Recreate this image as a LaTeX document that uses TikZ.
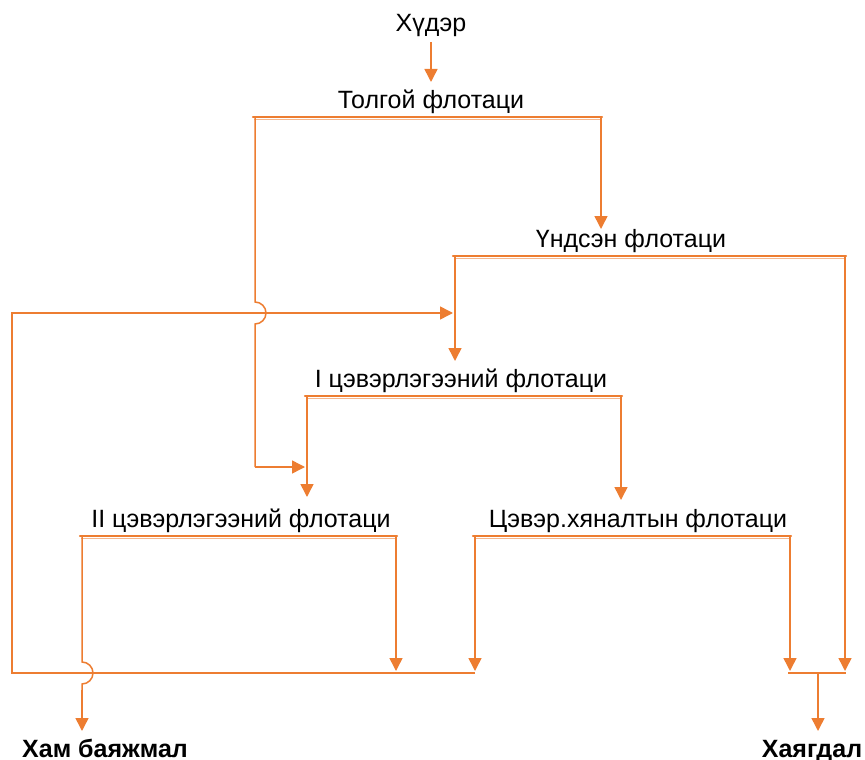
\documentclass[tikz,border=0pt]{standalone}
\usepackage{fontspec}
\setmainfont{Liberation Sans}
\usetikzlibrary{arrows.meta}
\definecolor{flow}{RGB}{237,125,49}
\begin{document}
\begin{tikzpicture}[x=1pt,y=-1pt,
  lbl/.style={font=\fontsize{25}{29}\selectfont, inner sep=0pt, anchor=base},
  outlbl/.style={font=\bfseries\fontsize{25}{29}\selectfont, inner sep=0pt, anchor=base},
  pipe/.style={draw=flow, line width=1.5pt},
  feed/.style={pipe, -{Triangle[length=13pt,width=13pt]}},
  bar/.style={draw=flow, line width=2.4pt, line cap=round},
  barshade/.style={draw=flow!55, line width=1pt}]
\useasboundingbox (0,0) rectangle (865,760);

% stage labels
\node[lbl] (ore)    at (431,32)  {Хүдэр};
\node[lbl] (rough)  at (431,108) {Толгой флотаци};
\node[lbl] (main)   at (631,247) {Үндсэн флотаци};
\node[lbl] (clean1) at (461,387) {I цэвэрлэгээний флотаци};
\node[lbl] (clean2) at (241,527) {II цэвэрлэгээний флотаци};
\node[lbl] (scav)   at (638,527) {Цэвэр.хяналтын флотаци};
\node[outlbl] (conc) at (105,757) {Хам баяжмал};
\node[outlbl] (tail) at (812,757) {Хаягдал};

% bar end points of each flotation stage
\coordinate (roughL)  at (255,117); \coordinate (roughR)  at (601,117);
\coordinate (mainL)   at (455,256); \coordinate (mainR)   at (845,256);
\coordinate (clean1L) at (307,396); \coordinate (clean1R) at (621,396);
\coordinate (clean2L) at (82,536);  \coordinate (clean2R) at (396,536);
\coordinate (scavL)   at (475,536); \coordinate (scavR)   at (790,536);

% stage bars
\foreach \a/\b in {roughL/roughR, mainL/mainR, clean1L/clean1R, clean2L/clean2R, scavL/scavR}{
  \draw[barshade] ([xshift=-1pt,yshift=-2.5pt]\a) -- ([xshift=1pt,yshift=-2.5pt]\b);
  \draw[bar] ([xshift=-2pt]\a) -- ([xshift=1pt]\b);
}

% feed into roughing
\draw[feed] (ore.south |- 0,42) -- (rough.north |- 0,82);

% roughing tails to main flotation
\draw[feed] (roughR) -- (roughR |- 0,229);

% roughing concentrate down to II cleaning (hops over the recycle line)
\coordinate (hopA) at (255,313);
\draw[pipe] (roughL) -- ([yshift=11pt]hopA)
  arc[start angle=90, end angle=-90, radius=11pt] -- (255,467);
\draw[feed] (255,467) -- (305,467);

% main flotation outputs
\draw[feed] (mainL) -- (mainL |- 0,361);
\draw[feed] (mainR) -- (mainR |- 0,671);

% I cleaning outputs
\draw[feed] (clean1L) -- (clean1L |- 0,497);
\draw[feed] (clean1R) -- (clean1R |- 0,500);

% II cleaning outputs (concentrate hops over the recycle line)
\coordinate (hopB) at (82,673);
\draw[pipe] (clean2L) -- ([yshift=11pt]hopB)
  arc[start angle=90, end angle=-90, radius=11pt] -- (82,690);
\draw[feed] (82,690) -- (82,731);
\draw[feed] (clean2R) -- (clean2R |- 0,671);

% scavenger outputs
\draw[feed] (scavL) -- (scavL |- 0,671);
\draw[feed] (scavR) -- (scavR |- 0,671);

% recycle loop back to I cleaning
\coordinate (loopS) at (475,673);
\draw[feed] (loopS) -- (12,673) -- (12,313) -- (453,313);

% tailings collector
\draw[pipe] (788,673) -- (846,673);
\draw[feed] (818,673) -- (818,731);
\end{tikzpicture}
\end{document}
